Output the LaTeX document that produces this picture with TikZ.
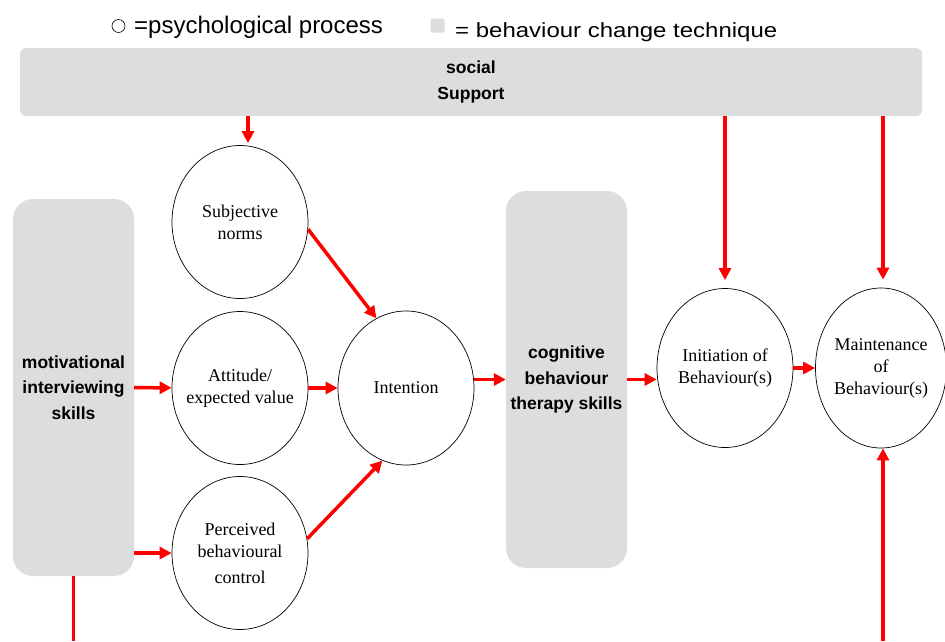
\documentclass[tikz,border=0pt]{standalone}
\usepackage{tikz}
\usetikzlibrary{positioning,shapes.geometric,arrows.meta}
\usepackage{fontspec}
\setmainfont{Liberation Serif}
\newfontfamily\arialfont{Liberation Sans}
\newfontfamily\widearial[FakeStretch=1.17]{Liberation Sans}
\definecolor{techgray}{HTML}{DDDDDD}

\begin{document}
\begin{tikzpicture}[x=1pt, y=-1pt,
	proc/.style={ellipse, draw, line width=0.7pt, inner xsep=-10pt, inner ysep=0pt, minimum width=136pt, minimum height=153pt, align=center, font=\fontsize{18}{22}\selectfont},
	tech/.style={rectangle, rounded corners=20pt, fill=techgray, inner sep=0pt, minimum width=121pt, minimum height=377pt, align=center, font=\arialfont\bfseries\fontsize{17.5}{25.5}\selectfont},
	flow/.style={-{Triangle[length=12pt,width=12pt]}, red, line width=3.5pt},
	legend/.style={anchor=base west, inner sep=0pt}
	]
	\useasboundingbox (0,0) rectangle (945,641);
	\coordinate (base) at (0,641);

	% legend
	\node[circle, draw, line width=0.6pt, minimum size=13pt, inner sep=0pt] (lc) at (118.5,26) {};
	\node[legend, font=\arialfont\fontsize{24}{28}\selectfont] (lt) at (134,33) {=psychological process};
	\node[rectangle, fill=techgray, rounded corners=2pt, minimum size=14pt, inner sep=0pt] (ls) at (437.5,25.5) {};
	\node[legend, font=\widearial\fontsize{20.5}{24}\selectfont] (lu) at (455,37) {= behaviour change technique};

	% techniques
	\node[tech, minimum width=902pt, minimum height=68pt, rounded corners=6pt] (bar) at (471,82) {social\\Support};
	\node[tech] (mi) at (73.5,387.5) {motivational\\interviewing\\skills};
	\node[tech] (cbt) at (566.5,379.5) {cognitive\\behaviour\\therapy skills};

	% processes
	\node[proc] (sn) at (240,222) {Subjective\\norms};
	\node[proc] (att) at (240,388) {Attitude/\\expected value};
	\node[proc] (pbc) at (240,553) {Perceived\\behavioural\\[4pt]control};
	\node[proc, minimum height=154pt] (int) at (406,388) {Intention};
	\node[proc, minimum height=159pt] (ini) at (725,368) {Initiation of\\Behaviour(s)};
	\node[proc, minimum width=131pt, minimum height=160pt] (mnt) at (881,368) {Maintenance\\of\\Behaviour(s)};

	\draw[flow] ([xshift=8pt]bar.south -| sn.north) -- ([xshift=8pt,yshift=2pt]sn.north);
	\draw[flow, shorten >=8pt] (bar.south -| ini.north) -- (ini.north);
	\draw[flow, shorten >=8pt] ([xshift=2pt]bar.south -| mnt.north) -- ([xshift=2pt]mnt.north);

	\draw[flow] (mi) -- (att);
	\draw[flow] (mi.east |- pbc) -- (pbc);
	\draw[flow] (sn.-6) -- (int.113);
	\draw[flow] (att) -- (int);
	\draw[flow] (pbc.12) -- (int.-108);
	\draw[flow] (int.east |- cbt) -- (cbt.west);
	\draw[flow] (cbt.east) -- (cbt.east -| ini.west);
	\draw[flow] (ini) -- (mnt);
	\draw[flow] ([xshift=2pt]base -| mnt.south) -- ([xshift=2pt]mnt.south);
	\draw[red, line width=3.5pt] (mi.south) -- (mi.south |- base);
\end{tikzpicture}
\end{document}
